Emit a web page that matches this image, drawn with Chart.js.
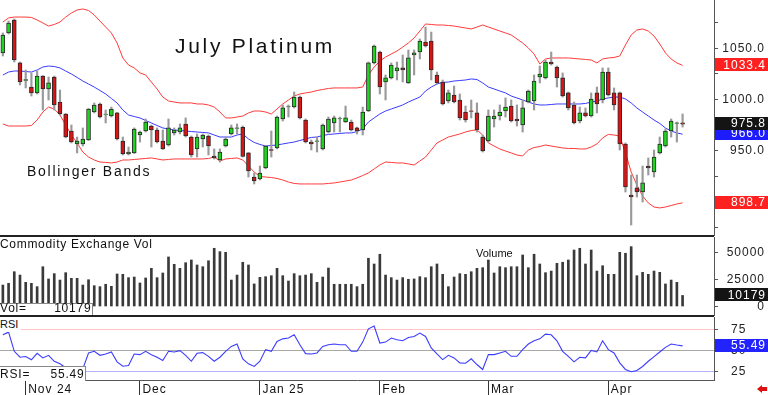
<!DOCTYPE html>
<html><head><meta charset="utf-8">
<script src="https://cdn.jsdelivr.net/npm/chart.js"></script>
<style>
html,body{margin:0;padding:0;background:#fff;width:768px;height:395px;overflow:hidden;font-family:'Liberation Sans',Arial,sans-serif;}
.pane{position:absolute;left:0;width:768px;}
canvas{display:block;}
.lbl{position:absolute;white-space:nowrap;color:#111;z-index:3;}
.sep{position:absolute;left:0;width:714px;height:2px;background:#222;z-index:4;}
.box{position:absolute;left:0;background:#fff;border-top:1px solid #888;border-right:1px solid #888;box-sizing:border-box;z-index:2;}
</style></head><body>
<div class="pane" style="top:0;height:236px"><canvas id="price" width="768" height="236"></canvas></div>
<div class="pane" style="top:237px;height:79px"><canvas id="vol" width="768" height="79"></canvas></div>
<div class="pane" style="top:317px;height:78px"><canvas id="rsi" width="768" height="78"></canvas></div>
<div class="sep" style="top:235px"></div>
<div class="sep" style="top:315px"></div>

<div class="lbl" style="left:175px;top:35px;font-size:21px;line-height:21px;letter-spacing:2.7px">July Platinum</div>
<div class="lbl" style="left:27px;top:164px;font-size:14px;line-height:14px;letter-spacing:1.75px">Bollinger Bands</div>
<div class="lbl" style="left:0;top:238px;font-size:12px;line-height:12px;letter-spacing:0.69px">Commodity Exchange Vol</div>
<div class="lbl" style="left:476px;top:248px;font-size:11px;line-height:11px">Volume</div>
<div class="lbl" style="left:0;top:317px;width:21px;height:15px;background:#fff;font-size:11px;line-height:11px;padding-top:2px;box-sizing:border-box">RSI</div>

<div class="box" style="top:303px;width:93px;height:13px"></div>
<div class="lbl" style="left:0;top:302px;font-size:12px;line-height:12px;letter-spacing:0.8px">Vol=</div>
<div class="lbl" id="volval" style="left:0;top:302px;width:91.5px;text-align:right;font-size:12px;line-height:12px;letter-spacing:0.8px"></div>

<div class="box" style="top:366px;width:86px;height:15px"></div>
<div class="lbl" style="left:0;top:367.5px;font-size:12px;line-height:12px;letter-spacing:0.8px">RSI=</div>
<div class="lbl" id="rsival" style="left:0;top:367.5px;width:84.5px;text-align:right;font-size:12px;line-height:12px;letter-spacing:0.8px"></div>

<div style="position:absolute;left:757px;top:385px;width:0;height:0;border-top:4px solid transparent;border-bottom:4px solid transparent;border-right:5px solid #e01010;z-index:3"></div>
<div style="position:absolute;left:761px;top:387px;width:6px;height:4px;background:#e01010;z-index:3"></div>

<script>
// ---------- DATA ----------
const monthLabels = ['Nov 24','Dec','Jan 25','Feb','Mar','Apr'];
const monthStarts = [4,24,45,66,85,106];

const opens = [1045.6,1065.2,1077.9,1035.8,1018.6,1012.2,1006.4,1023,1010.3,1022,
997.5,985.8,969.1,956.4,956.4,960.3,987.7,995.6,985.3,983.8,
986.8,959.3,946.6,947.6,965.2,969.1,974,970.1,959.3,955.4,
967.2,968.1,976,963.2,951.5,961.3,964.2,944.6,940.7,954.4,
966.2,971.6,972.6,947.6,924,922.1,932.9,951,952.5,980.9,
992.6,992.6,1002.4,979.9,958.3,959,951.5,968.1,977,980.9,
977.9,977.9,972.1,970.1,988.7,1035.8,1046.5,1017.1,1021.1,1027.9,
1030.9,1016.2,1043.6,1046.5,1056.3,1057.3,1024,1017.1,998.5,1004.4,
999.5,987.7,988.9,986.8,963.2,959.3,980.9,983.8,988.7,993.6,
980.9,975,997.5,998.5,1022,1021.1,1036.7,1031.8,1021.1,1006.4,
994.6,978.9,986.8,983.8,1006.4,999.5,1026.9,1006.4,1006.4,956.4,
906.4,913.3,909.3,934.8,928.9,947.6,954.4,969.1,976.5,977];

const highs = [1065.2,1076.9,1078.9,1036.7,1028.9,1026,1027.9,1023.5,1022,1023,
1009.3,986.3,975,963.2,972.1,991.2,996.6,996.6,989.7,992.6,
987.3,963.2,953.4,972.1,969.1,980.9,975,972.1,970.1,980.9,
972.1,976,981.9,964.2,966.2,966.2,965.2,951.5,951.5,963.2,
975,976,974,948,927.9,934.8,955,969.1,983.8,994.6,
994.6,1007.3,1003.4,980.9,960.3,963.2,976,982.8,983.8,982.8,
993.6,979.9,973,992.6,1036.7,1053.4,1047.5,1024,1035.8,1036.7,
1043.6,1048.5,1048.5,1059.3,1071,1066.1,1026.9,1019.1,1009.3,1013.2,
1005.4,993.6,999.5,996.6,965.2,989.7,989.7,994.6,1001.5,999.5,
994.6,999.5,1009.3,1024,1032.8,1038.7,1046.5,1032.8,1026,1007.3,
997.5,992.6,991.7,1006.4,1012.2,1030.9,1030.9,1011.3,1007.3,957.4,
926,926,934.8,942.7,950.5,963.2,971.1,980.9,977.9,985.8];

const lows = [1042.6,1064.2,1036.7,1014.2,1011.3,1003.4,1005.4,989.7,999.5,989.7,
984.8,962.3,957.4,947.6,954.4,959.8,986.8,981.9,977,982.8,
960.3,945.6,945.6,947.1,958.3,968.1,953.4,957.4,951,954.4,
965.2,966.2,963.2,943.6,943.6,953.4,945.6,941.7,938.7,953.4,
965.2,966.2,943.6,924,917.2,921.1,932,943.6,951.5,978.9,
982.8,991.7,980.9,957.4,950.5,948.5,950.5,967.2,968.1,968.1,
977.4,969.1,966.2,965.2,988.2,1034.8,1005.4,999.5,1020.1,1019.1,
1017.1,1015.7,1024,1039.7,1051.4,1019.1,1015.2,994.6,996.6,996.6,
979.9,977.9,981.9,968.1,948.5,958.3,973,979.9,982.8,977.9,
974,968.1,996.6,989.7,1016.2,1020.1,1033.8,1012.2,1002.4,989.7,
976,977,982.8,982.8,986.8,996.6,1003.4,989.7,950.5,909.3,
877,904.4,899.5,926,924,946.6,953.4,963.2,958.3,973];

const closes = [1063.2,1075,1038.7,1017.1,1019.6,1006.4,1023,1010.3,1016.2,994.6,
985.8,963.2,958.3,959.3,961.3,990.7,994.6,982.8,985.8,990.7,
961.3,946.6,948.5,971.1,968.1,977.9,970.1,958.3,951.5,972.1,
970.1,972.1,964.2,945.6,963.2,965.2,954.4,942.7,948.5,961.3,
972.1,972.1,944.1,929.9,920.1,927.9,954.4,950,982.8,991.7,
993.1,1002.4,981.9,958.3,956.4,959.5,975,980.9,981.9,981.4,
981.9,970.1,969.1,987.7,1035.8,1052.4,1012.2,1021.1,1033.8,1030.9,
1028.9,1040.7,1045.6,1057.3,1052.4,1028.9,1016.2,995.6,1006.4,997.5,
981.9,979.9,988.2,970.1,949.5,983.8,983.8,987.7,992.6,978.9,
978.9,991.7,1008.3,1018.1,1025,1036.7,1034.8,1021.1,1003.4,991.7,
977,986.8,983.8,1000.5,995.6,1026.9,1004.4,994.6,956.4,914.2,
904.4,909.3,918.2,932.9,943.6,956.4,969.1,978.9,977,975.8];

const upperBand = [1075.9,1079.9,1080.8,1080.8,1080.8,1080.4,1077.9,1075,1072,1073.5,
1075.9,1080.8,1084.8,1087.7,1088.7,1087.2,1082.8,1076.9,1071,1065.2,
1055.4,1040.7,1033.8,1030.9,1026,1024,1017.1,1010.3,1002.4,998.5,
997.5,996.6,996.6,996.6,995.6,995.6,994.6,992.6,987.7,981.9,
981.9,982.8,983.8,986.8,988.7,988.7,987.7,985.8,990.7,995.6,
999.5,1003.4,1005.4,1006.4,1007.3,1008.8,1009.8,1010.8,1011.3,1011.3,
1011.3,1011.3,1011.3,1012.2,1024,1031.8,1037.7,1041.6,1044.6,1047.5,
1051.4,1055.4,1060.3,1067.1,1074,1073.5,1073,1073,1072.5,1072,
1071,1070.1,1069.1,1071,1073,1071,1069.1,1067.1,1065.2,1063.2,
1059.3,1055.4,1050.5,1044.6,1034.8,1039.7,1040.7,1040.7,1040.7,1040.7,
1040.2,1039.7,1039.2,1038.7,1035.8,1039.7,1040.7,1041.2,1042.6,1053.4,
1063.2,1068.1,1069.1,1067.1,1062.2,1054.4,1045.6,1039.7,1035.8,1033.4];

const middleBand = [1024,1026.9,1027.9,1027.9,1027.4,1026.9,1028.9,1031.8,1032.8,1032.3,
1030.9,1027.9,1025,1021.6,1018.1,1015.2,1012.2,1008.8,1005.4,1001,
996.6,989.7,984.8,983.3,981.9,979.4,977,974.5,972.1,971.1,
970.1,969.6,969.1,968.6,968.1,967.7,967.2,965.2,963.2,963.2,
963.2,965.2,966.2,961.3,957.9,955.9,954.4,954.9,955.4,956.4,
957.4,958.3,959.8,961.3,962.8,963.2,964.7,965.7,966.2,966.7,
967.2,967.2,968.6,971.1,977.9,981.9,985.8,988.7,990.7,992.6,
994.6,997.5,1000,1002.4,1008.3,1012.2,1015.2,1016.7,1017.1,1018.1,
1018.6,1019.1,1020.1,1019.6,1016.2,1012.2,1010.3,1008.3,1006.4,1003.4,
1001.5,999.5,997.5,995.6,994.6,994.6,995.1,995.6,995.6,995.6,
995.6,995.6,996.1,997.5,998.5,1000.5,1001.5,1002.4,1002.4,1000.5,
996.6,991.7,987.7,983.8,979.9,976.5,972.1,969.1,967.2,966.0];

const lowerBand = [976,974,974,974,974,974.5,979.9,987.7,992.6,990.7,
984.8,975,965.2,957.4,948.5,943.6,940.7,938.7,938.3,937.8,
938.7,940.7,940.7,941.2,941.7,942.2,942.7,941.7,940.7,941.2,
941.7,941.7,941.7,941.7,941.7,941.7,942.2,943.6,939.7,941.7,
942.2,942.7,940.7,934.8,928.9,924.5,924,923.5,922.6,921.1,
919.1,917.7,917.2,917.2,917.2,917.2,917.2,917.7,918.2,919.1,
920.1,921.1,923.1,925.5,928,931.9,935.8,938.7,938.3,937.8,
937.8,936.8,935.8,939.7,943.6,950.5,957.4,960.3,963.2,964.7,
966.2,968.1,969.6,970.1,965.2,957.4,954.4,951.5,949.5,947.6,
945.6,944.6,950.5,952.9,953.9,955.4,954.4,953.4,952.5,952,
952,951.5,951.5,953.4,956.4,962.3,965.7,965.2,964.2,947.6,
928.9,916.2,905.4,898.6,894.6,893.7,894.6,896.1,897.6,898.7];

const volumes = [19800,21400,32100,29000,22300,21400,18300,36700,25400,30300,
24400,31200,26000,26000,19800,24700,19200,18300,20500,18600,
30000,29700,26600,27200,21700,26300,35200,26600,30900,45700,
38900,35200,40400,42900,38300,36700,42200,53700,50600,50000,
24400,29000,40800,38300,20800,26900,27500,28400,35200,28400,
23500,30300,28400,29000,30300,22300,27200,35500,20500,20500,
20500,20500,18300,20500,44500,39200,48200,29000,26600,24400,
26600,25100,25400,27500,26600,36700,39200,29700,18300,27200,
30300,29700,32100,35200,35800,42900,30900,36700,35800,36700,
36700,47500,35800,48200,39200,31200,32700,39800,40800,42900,
52100,53700,39200,52100,32700,37600,29700,29700,50000,49100,
55200,28400,31500,29700,32700,31500,20800,24400,22300,10179];

const rsi = [68.7,71.9,49,41.9,42.7,38.8,46.6,41.1,44.2,37.1,
34,29.3,26,24,28,47,49,44.2,45.8,48.2,
36.4,31.2,32,45.8,45,49,45,41.9,38,49,
48.2,49.8,44.2,37.1,46.6,47.4,43,37.1,41.9,49,
54.8,57.7,40,34,30.9,37.1,51,49,60.8,63.9,
64.8,68.7,56.9,46.2,45.8,47,54.8,56.9,57.7,56.9,
56.9,49,49,60,75.8,79.3,58.9,60,64.8,62.8,
61.6,65.5,66.7,70.7,66.7,53,45.8,39.1,44.2,41.1,
35.2,34.8,40,33.2,27.3,45,45,47,49,43,
43,51,57.7,61.6,63.9,69.5,68.7,61.6,49,43,
36.4,41.9,41.1,50.1,48.2,61.6,51,47,35.2,27.3,
24.6,26.1,30.9,37.1,42.7,48.2,53.7,57.7,56.5,55.49];

const priceTicks = [875,900,925,950,975,1000,1025,1050,1075];
const volumeTicks = [0,25000,50000];
const rsiTicks = [25,50,75];
const SLOTS = 125; // trading-day slots across the axis (last 5 are empty space)
const categories = Array.from({length:SLOTS},(_,i)=>String(i));

// ---------- SETUP ----------
const FONT = "'Liberation Sans', Arial, sans-serif";
Chart.defaults.font.family = FONT;
Chart.defaults.font.size = 12;
Chart.defaults.color = '#222';
const last = a => a[a.length-1];
document.getElementById('volval').textContent = String(last(volumes));
document.getElementById('rsival').textContent = last(rsi).toFixed(2);

const spacingPlugin = {id:'spacing', beforeDraw(c){ c.ctx.letterSpacing = '1px'; }};
function tagPlugin(items){
  return {id:'tags', afterDraw(chart){
    const {ctx, chartArea} = chart; const ys = chart.scales.y;
    items.forEach(it=>{
      const y = ys.getPixelForValue(it.value);
      ctx.save();
      ctx.fillStyle = it.bg;
      ctx.fillRect(chartArea.right+1, Math.round(y-7), chart.width-chartArea.right-1, 13);
      ctx.fillStyle = '#fff';
      ctx.font = '12px ' + FONT;
      ctx.letterSpacing = '1px';
      ctx.textAlign = 'right'; ctx.textBaseline = 'middle';
      ctx.fillText(it.text, chart.width-2, y);
      ctx.restore();
    });
  }};
}
const hidden = 'rgba(0,0,0,0)';
function baseOptions(){
  return {responsive:false, animation:false, events:[],
    layout:{padding:{left:0,right:3,top:0,bottom:0}, autoPadding:false},
    plugins:{legend:{display:false}, tooltip:{enabled:false}}};
}
function yAxis(min, max, tickVals, fmt, extra){
  return Object.assign({
    position:'right', min, max,
    afterFit(s){ s.width = 51; s.paddingTop = 0; s.paddingBottom = 0; s.paddingLeft = 0; s.paddingRight = 0; },
    afterBuildTicks(s){ s.ticks = tickVals.map(v=>({value:v})); },
    border:{display:true, color:'#555', width:1},
    grid:{drawOnChartArea:false, drawTicks:true, tickLength:4, tickColor:'#555'},
    ticks:{autoSkip:false, crossAlign:'far', padding:0, color:'#222', font:{size:12}, callback:fmt}
  }, extra||{});
}

// ---------- PRICE ----------
new Chart(document.getElementById('price'), {
  type:'bar',
  data:{labels:categories, datasets:[
    {type:'line', data:upperBand, borderColor:'#ff3a3a', borderWidth:1, pointRadius:0, tension:0, fill:false, order:5},
    {type:'line', data:lowerBand, borderColor:'#ff3a3a', borderWidth:1, pointRadius:0, tension:0, fill:false, order:5},
    {type:'line', data:middleBand, borderColor:'#3a3aff', borderWidth:1, pointRadius:0, tension:0, fill:false, order:5},
    {data:highs.map((h,i)=>[lows[i],h]), backgroundColor:'#9a9a9a', barThickness:1.5, grouped:false, order:3},
    {data:opens.map((o,i)=>[o,closes[i]]),
     backgroundColor:opens.map((o,i)=>closes[i]>=o?'#1fd41f':'#d81414'),
     borderColor:'#2a2a2a', borderWidth:1, borderSkipped:false, barThickness:4, grouped:false, order:1}
  ]},
  options:Object.assign(baseOptions(), {
    scales:{
      x:{display:false, offset:true},
      y:yAxis(866.2, 1097.5, priceTicks, v => v%50===0 ? Number(v).toFixed(1) : '')
    }
  }),
  plugins:[spacingPlugin, tagPlugin([
    {value:last(upperBand), bg:'#ff2020', text:last(upperBand).toFixed(1)},
    {value:last(lowerBand), bg:'#ff2020', text:last(lowerBand).toFixed(1)},
    {value:last(middleBand), bg:'#1c1cff', text:last(middleBand).toFixed(1)},
    {value:last(closes), bg:'#141414', text:last(closes).toFixed(1)}
  ])]
});

// ---------- VOLUME ----------
new Chart(document.getElementById('vol'), {
  type:'bar',
  data:{labels:categories, datasets:[
    {data:volumes, backgroundColor:'#3a3a3a', barThickness:2}
  ]},
  options:Object.assign(baseOptions(), {
    scales:{
      x:{display:false, offset:true},
      y:yAxis(-8760, 64100, volumeTicks, v => String(v))
    }
  }),
  plugins:[spacingPlugin, tagPlugin([{value:last(volumes), bg:'#141414', text:String(last(volumes))}])]
});

// ---------- RSI ----------
const rsiGrid = {75:'#ffc4c4', 50:'#a8a8a8', 25:'#b4b4ff'};
new Chart(document.getElementById('rsi'), {
  type:'line',
  data:{labels:categories, datasets:[
    {data:rsi, borderColor:'#3c3cff', borderWidth:1.1, pointRadius:0, tension:0, fill:false}
  ]},
  options:Object.assign(baseOptions(), {
    scales:{
      x:{type:'category', offset:true, position:'bottom',
        afterFit(s){ s.height = 15; s.paddingLeft = 0; s.paddingRight = 0; s.paddingTop = 0; s.paddingBottom = 0; },
        border:{display:true, color:'#555', width:1},
        grid:{offset:false, drawOnChartArea:false, drawTicks:true, tickLength:15, lineWidth:1,
          tickColor:c => monthStarts.includes(c.index) ? '#333' : hidden},
        ticks:{autoSkip:false, maxRotation:0, minRotation:0, align:'start', labelOffset:2.5, padding:-13,
          color:'#111', font:{size:12},
          callback:(v,i) => { const k = monthStarts.indexOf(i); return k>=0 ? monthLabels[k] : ''; }}
      },
      y:yAxis(14.7, 90, rsiTicks, v => String(v), {
        grid:{drawOnChartArea:true, drawTicks:true, tickLength:4, tickColor:'#555',
          color:c => (c.tick && rsiGrid[c.tick.value]) || hidden, lineWidth:1},
        ticks:{autoSkip:false, crossAlign:'near', padding:13, color:'#222', font:{size:12}, callback:v => String(v)}
      })
    }
  }),
  plugins:[spacingPlugin, tagPlugin([{value:last(rsi), bg:'#2323ff', text:last(rsi).toFixed(2)}])]
});
</script>
</body></html>
